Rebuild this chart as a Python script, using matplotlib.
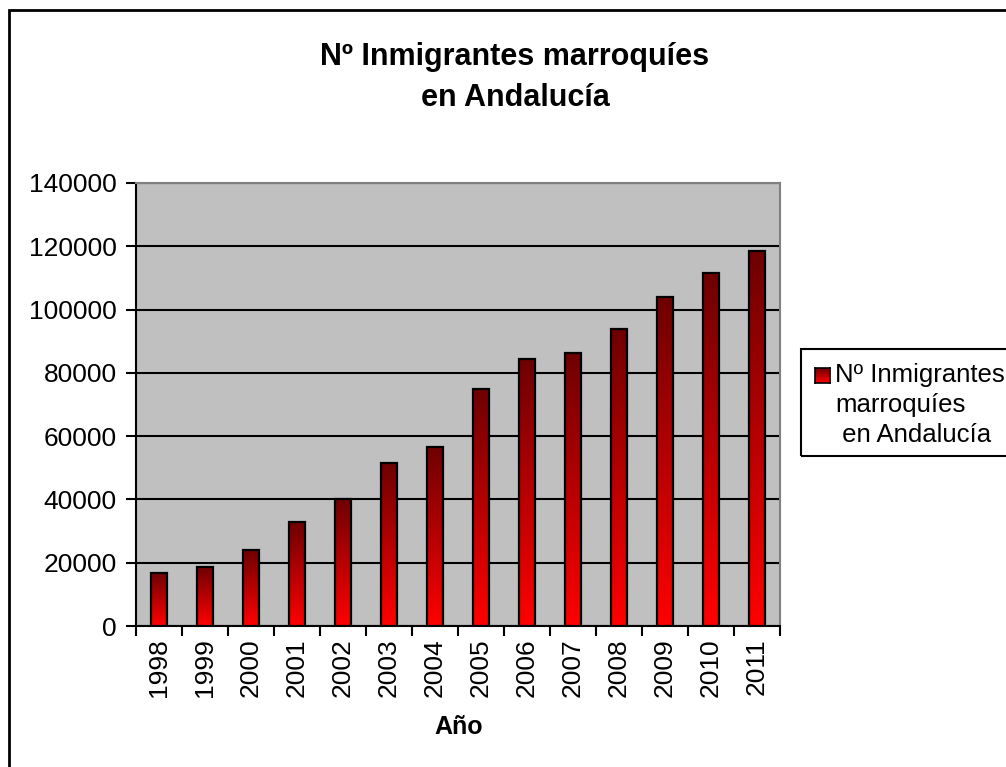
import numpy as np
import matplotlib
matplotlib.use("Agg")
import matplotlib.pyplot as plt
from matplotlib.patches import Rectangle
from matplotlib.colors import LinearSegmentedColormap

# Datos
years = ['1998', '1999', '2000', '2001', '2002', '2003', '2004',
         '2005', '2006', '2007', '2008', '2009', '2010', '2011']
inmigrantes = [16900, 18800, 23900, 32800, 40200, 51600, 56700,
               74900, 84300, 86200, 93800, 103900, 111500, 118500]
serie = 'Nº Inmigrantes\nmarroquíes\n en Andalucía'
titulo = 'Nº Inmigrantes marroquíes\nen Andalucía'
y_ticks = [0, 20000, 40000, 60000, 80000, 100000, 120000, 140000]

plt.rcParams['font.family'] = ['Liberation Sans', 'DejaVu Sans']

W, H = 1006, 767
fig = plt.figure(figsize=(W / 100, H / 100), dpi=100)
ax = fig.add_axes([136 / W, 1 - 626 / H, (780 - 136) / W, (626 - 183) / H])
ax.set_facecolor('#C0C0C0')

# degradado rojo oscuro -> rojo
cmap = LinearSegmentedColormap.from_list('rojo', ['#FF0000', '#6E0000'])
grad = np.linspace(0, 1, 256).reshape(-1, 1)

x = np.arange(len(years))
bw = 0.33
for xi, v in zip(x, inmigrantes):
    ax.imshow(grad, cmap=cmap, aspect='auto', origin='lower',
              extent=[xi - bw / 2, xi + bw / 2, 0, v], zorder=3)
ax.bar(x, inmigrantes, width=bw, facecolor='none', edgecolor='black',
       linewidth=1.6, zorder=4)

ax.set_xlim(-0.5, len(years) - 0.5)
ax.set_ylim(0, 140000)
ax.set_yticks(y_ticks)
ax.set_yticklabels([str(t) for t in y_ticks])
ax.yaxis.grid(True, color='black', linewidth=1.5, zorder=1)
ax.set_axisbelow(True)

ax.set_xticks(x)
ax.set_xticklabels(years, rotation=90)
ax.set_xticks(np.arange(-0.5, len(years), 1), minor=True)
ax.tick_params(axis='x', which='major', length=0, pad=9, labelsize=19)
ax.tick_params(axis='x', which='minor', length=7, width=1.5, direction='out')
ax.tick_params(axis='y', length=7, width=1.5, direction='out', pad=7, labelsize=19)

for s in ['left', 'bottom']:
    ax.spines[s].set_linewidth(1.5)
    ax.spines[s].set_color('black')
for s in ['top', 'right']:
    ax.spines[s].set_linewidth(1.5)
    ax.spines[s].set_color('#808080')

# título y etiqueta del eje
fig.text(515 / W, 1 - 77.5 / H, titulo, ha='center', va='center',
         fontsize=22, fontweight='bold', linespacing=1.5)
fig.text(459 / W, 1 - 727 / H, 'Año', ha='center', va='center',
         fontsize=18, fontweight='bold')

# marco exterior
fig.add_artist(Rectangle((9 / W, -0.05), 1.05, 1 - 10 / H + 0.05,
                         transform=fig.transFigure, fill=False,
                         edgecolor='black', linewidth=2))

# leyenda
fig.add_artist(Rectangle((801 / W, 1 - 456 / H), 0.3, (456 - 349) / H,
                         transform=fig.transFigure, fill=False,
                         edgecolor='black', linewidth=1.5))
lax = fig.add_axes([815 / W, 1 - 383 / H, 15 / W, 15 / H])
lax.imshow(grad, cmap=cmap, aspect='auto', origin='lower', extent=[0, 1, 0, 1])
lax.set_xticks([])
lax.set_yticks([])
for s in lax.spines.values():
    s.set_linewidth(1.2)
fig.text(835 / W, 1 - 405 / H, serie, ha='left', va='center',
         fontsize=18.5, linespacing=1.33)

fig.savefig('out.png', dpi=100)
